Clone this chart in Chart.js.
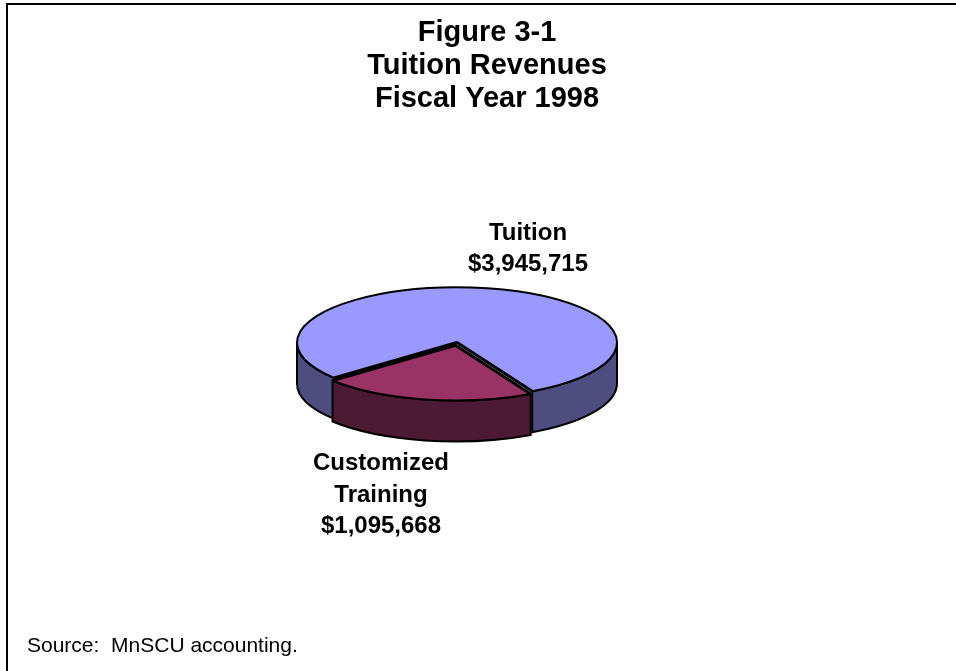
<!DOCTYPE html>
<html>
<head>
<meta charset="utf-8">
<title>Tuition Revenues</title>
<script src="https://cdn.jsdelivr.net/npm/chart.js@4"></script>
<style>
    html, body { margin: 0; padding: 0; background: #ffffff; overflow: hidden; }
    canvas { display: block; }
</style>
</head>
<body>
<canvas id="revenueChart" width="956" height="671"></canvas>
<script>
const categories = ["Tuition", "Customized Training"];
const revenues = [3945715, 1095668];
const topColors = ["#9999ff", "#993366"];
const wallColors = ["#4d4d80", "#4d1a33"];
const sliceOffsets = [0, 32];

const titleLines = ["Figure 3-1", "Tuition Revenues", "Fiscal Year 1998"];
const tuitionLabel = ["Tuition", "$3,945,715"];
const trainingLabel = ["Customized", "Training", "$1,095,668"];
const sourceNote = "Source:  MnSCU accounting.";

const SQUASH = 0.345;  // tilt of the pie, height of the ellipse over its width
const DEPTH = 41;      // thickness of the pie in pixels

// Chart.js moves an arc by a quarter of its offset option
function sliceCentre(arc, index) {
    const mid = (arc.startAngle + arc.endAngle) / 2;
    const offset = sliceOffsets[index] / 4;
    return {
        x: arc.x + Math.cos(mid) * offset,
        y: arc.y + Math.sin(mid) * offset * SQUASH
    };
}

// only the part of a slice in the front half of the pie shows a wall
function frontRanges(start, end) {
    const ranges = [];
    for (let k = -1; k <= 2; k++) {
        const a = Math.max(start, k * 2 * Math.PI);
        const b = Math.min(end, k * 2 * Math.PI + Math.PI);
        if (a < b) ranges.push([a, b]);
    }
    return ranges;
}

function drawWalls(ctx, arcs) {
    arcs.forEach((arc, i) => {
        const c = sliceCentre(arc, i);
        const r = arc.outerRadius;
        frontRanges(arc.startAngle, arc.endAngle).forEach(([a, b]) => {
            ctx.beginPath();
            ctx.ellipse(c.x, c.y, r, r * SQUASH, 0, a, b);
            ctx.ellipse(c.x, c.y + DEPTH, r, r * SQUASH, 0, b, a, true);
            ctx.closePath();
            ctx.fillStyle = wallColors[i];
            ctx.fill();
            ctx.lineWidth = 2;
            ctx.strokeStyle = "#000000";
            ctx.stroke();
        });
    });
}

function drawOutlines(ctx, arcs) {
    ctx.strokeStyle = "#000000";
    ctx.lineJoin = "round";
    arcs.forEach((arc, i) => {
        const c = sliceCentre(arc, i);
        const r = arc.outerRadius;
        ctx.beginPath();
        ctx.ellipse(c.x, c.y, r, r * SQUASH, 0, arc.startAngle, arc.endAngle);
        ctx.lineWidth = 2;
        ctx.stroke();
    });
    arcs.forEach((arc, i) => {
        const c = sliceCentre(arc, i);
        const r = arc.outerRadius;
        ctx.beginPath();
        ctx.moveTo(c.x + Math.cos(arc.startAngle) * r, c.y + Math.sin(arc.startAngle) * r * SQUASH);
        ctx.lineTo(c.x, c.y);
        ctx.lineTo(c.x + Math.cos(arc.endAngle) * r, c.y + Math.sin(arc.endAngle) * r * SQUASH);
        ctx.lineWidth = 3;
        ctx.stroke();
    });
}

const tiltedPie = {
    id: "tiltedPie",
    beforeDatasetDraw(chart, args) {
        const ctx = chart.ctx;
        const arcs = args.meta.data;
        drawWalls(ctx, arcs);
        ctx.save();
        ctx.translate(0, arcs[0].y);
        ctx.scale(1, SQUASH);
        ctx.translate(0, -arcs[0].y);
    },
    afterDatasetDraw(chart, args) {
        const ctx = chart.ctx;
        ctx.restore();
        drawOutlines(ctx, args.meta.data);
    }
};

function drawLines(ctx, lines, x, firstBaseline, lineHeight) {
    lines.forEach((line, i) => ctx.fillText(line, x, firstBaseline + i * lineHeight));
}

const pageText = {
    id: "pageText",
    beforeDraw(chart) {
        const ctx = chart.ctx;
        ctx.save();
        // frame, open on the right and at the bottom
        ctx.fillStyle = "#000000";
        ctx.fillRect(6, 3, 950, 2);
        ctx.fillRect(6, 3, 2, 668);
        ctx.restore();
    },
    afterDraw(chart) {
        const ctx = chart.ctx;
        ctx.save();
        ctx.fillStyle = "#000000";
        ctx.textBaseline = "alphabetic";
        ctx.textAlign = "center";
        ctx.font = "bold 29px 'Liberation Sans'";
        drawLines(ctx, titleLines, 487, 41, 33);
        ctx.font = "bold 24px 'Liberation Sans'";
        drawLines(ctx, tuitionLabel, 528, 240, 31);
        drawLines(ctx, trainingLabel, 381, 470, 31.5);
        ctx.textAlign = "left";
        ctx.font = "21px 'Liberation Sans'";
        ctx.fillText(sourceNote, 27, 652);
        ctx.restore();
    }
};

new Chart(document.getElementById("revenueChart"), {
    type: "pie",
    data: {
        labels: categories,
        datasets: [{
            data: revenues,
            backgroundColor: topColors,
            borderWidth: 0,
            offset: sliceOffsets
        }]
    },
    options: {
        responsive: false,
        animation: false,
        rotation: -129.8,
        radius: 160,
        layout: {
            padding: { left: 0, right: 42, top: 142.5, bottom: 128.5 }
        },
        plugins: {
            legend: { display: false },
            title: { display: false },
            tooltip: { enabled: false }
        }
    },
    plugins: [tiltedPie, pageText]
});
</script>
</body>
</html>
